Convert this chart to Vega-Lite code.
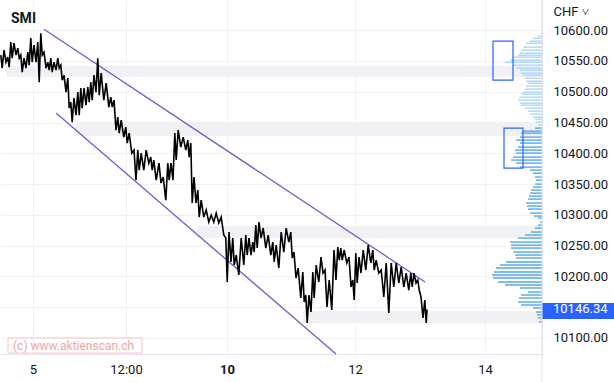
{
  "$schema": "https://vega.github.io/schema/vega-lite/v6.json",
  "width": 542,
  "height": 354,
  "autosize": "none",
  "padding": {"left": 0, "top": 0, "right": 72, "bottom": 28},
  "background": "white",
  "config": {"view": {"stroke": null}, "font": "Roboto"},
  "title": {"text": "SMI", "anchor": "start", "frame": "group", "offset": 0, "dy": 37, "dx": 11, "baseline": "alphabetic", "fontSize": 14, "fontWeight": "bold", "color": "#131722", "font": "Roboto"},
  "datasets": {
    "bands": [
      {"t1": 3, "t2": 271, "lo": 10524, "hi": 10542},
      {"t1": 37.5, "t2": 271, "lo": 10428, "hi": 10451},
      {"t1": 98.5, "t2": 271, "lo": 10262, "hi": 10282},
      {"t1": 151.5, "t2": 271, "lo": 10124, "hi": 10144}
    ],
    "trend": [
      {"line": "upper", "t": 22, "p": 10601.6}, {"line": "upper", "t": 212.5, "p": 10190.9},
      {"line": "lower", "t": 28, "p": 10465.3}, {"line": "lower", "t": 168, "p": 10074}
    ],
    "boxes": [
      {"t1": 246.5, "t2": 256.5, "hi": 10582.1, "lo": 10518.8},
      {"t1": 252, "t2": 261.5, "hi": 10440.9, "lo": 10376.0}
    ],
    "mark": [
      {"t1": 4, "t2": 71, "hi": 10100, "lo": 10075.6, "tl": 6.5, "p": 10087.8, "label": "(c) www.aktienscan.ch"}
    ],
    "last": [
      {"t1": 271, "t2": 307, "hi": 10156.8, "lo": 10130.8, "tl": 276.5, "p": 10146.34, "label": "10146.34"}
    ],
    "profile": [
      {"p": 10595.1, "vol": 1, "zone": "upper"}, {"p": 10590.3, "vol": 4, "zone": "upper"}, {"p": 10587.0, "vol": 9, "zone": "upper"}, {"p": 10582.1, "vol": 12, "zone": "upper"}, {"p": 10578.9, "vol": 16, "zone": "upper"}, {"p": 10572.4, "vol": 19, "zone": "upper"}, {"p": 10567.5, "vol": 21, "zone": "upper"}, {"p": 10562.7, "vol": 22, "zone": "upper"}, {"p": 10559.4, "vol": 24, "zone": "upper"}, {"p": 10556.2, "vol": 29, "zone": "upper"}, {"p": 10551.3, "vol": 32, "zone": "upper"}, {"p": 10548.0, "vol": 37, "zone": "upper"}, {"p": 10543.2, "vol": 29, "zone": "upper"}, {"p": 10538.3, "vol": 26, "zone": "upper"}, {"p": 10535.1, "vol": 22, "zone": "upper"}, {"p": 10530.2, "vol": 21, "zone": "upper"}, {"p": 10526.9, "vol": 19, "zone": "upper"}, {"p": 10522.1, "vol": 17, "zone": "upper"}, {"p": 10517.2, "vol": 16, "zone": "upper"}, {"p": 10514.0, "vol": 14, "zone": "upper"}, {"p": 10509.1, "vol": 16, "zone": "upper"}, {"p": 10504.2, "vol": 17, "zone": "upper"}, {"p": 10499.3, "vol": 19, "zone": "upper"}, {"p": 10496.1, "vol": 21, "zone": "upper"}, {"p": 10491.2, "vol": 23, "zone": "upper"}, {"p": 10486.4, "vol": 24, "zone": "upper"}, {"p": 10481.5, "vol": 22, "zone": "upper"}, {"p": 10478.2, "vol": 21, "zone": "upper"}, {"p": 10473.4, "vol": 17, "zone": "upper"}, {"p": 10468.5, "vol": 14, "zone": "upper"}, {"p": 10463.6, "vol": 12, "zone": "upper"}, {"p": 10458.8, "vol": 9, "zone": "upper"}, {"p": 10455.5, "vol": 7, "zone": "upper"}, {"p": 10450.6, "vol": 6, "zone": "upper"}, {"p": 10445.8, "vol": 4, "zone": "upper"},
      {"p": 10440.9, "vol": 7, "zone": "lower"}, {"p": 10436.0, "vol": 19, "zone": "lower"}, {"p": 10432.8, "vol": 21, "zone": "lower"}, {"p": 10426.3, "vol": 22, "zone": "lower"}, {"p": 10421.4, "vol": 26, "zone": "lower"}, {"p": 10416.6, "vol": 22, "zone": "lower"}, {"p": 10410.1, "vol": 24, "zone": "lower"}, {"p": 10405.2, "vol": 27, "zone": "lower"}, {"p": 10400.3, "vol": 26, "zone": "lower"}, {"p": 10393.8, "vol": 29, "zone": "lower"}, {"p": 10389.0, "vol": 31, "zone": "lower"}, {"p": 10384.1, "vol": 26, "zone": "lower"}, {"p": 10377.6, "vol": 22, "zone": "lower"}, {"p": 10372.7, "vol": 12, "zone": "lower"}, {"p": 10367.8, "vol": 9, "zone": "lower"}, {"p": 10361.4, "vol": 7, "zone": "lower"}, {"p": 10356.5, "vol": 6, "zone": "lower"}, {"p": 10350.0, "vol": 7, "zone": "lower"}, {"p": 10345.1, "vol": 9, "zone": "lower"}, {"p": 10340.3, "vol": 11, "zone": "lower"}, {"p": 10335.4, "vol": 12, "zone": "lower"}, {"p": 10330.5, "vol": 13, "zone": "lower"}, {"p": 10325.6, "vol": 14, "zone": "lower"}, {"p": 10319.2, "vol": 16, "zone": "lower"}, {"p": 10314.3, "vol": 15, "zone": "lower"}, {"p": 10309.4, "vol": 14, "zone": "lower"}, {"p": 10302.9, "vol": 12, "zone": "lower"}, {"p": 10298.0, "vol": 8, "zone": "lower"}, {"p": 10294.8, "vol": 4, "zone": "lower"}, {"p": 10288.3, "vol": 2, "zone": "lower"}, {"p": 10283.4, "vol": 4, "zone": "lower"}, {"p": 10278.6, "vol": 7, "zone": "lower"}, {"p": 10272.1, "vol": 11, "zone": "lower"}, {"p": 10267.2, "vol": 17, "zone": "lower"}, {"p": 10262.3, "vol": 24, "zone": "lower"}, {"p": 10255.8, "vol": 32, "zone": "lower"}, {"p": 10250.9, "vol": 31, "zone": "lower"}, {"p": 10246.1, "vol": 31, "zone": "lower"}, {"p": 10239.6, "vol": 29, "zone": "lower"}, {"p": 10234.7, "vol": 27, "zone": "lower"}, {"p": 10229.9, "vol": 26, "zone": "lower"}, {"p": 10223.4, "vol": 36, "zone": "lower"}, {"p": 10218.5, "vol": 42, "zone": "lower"}, {"p": 10213.6, "vol": 46, "zone": "lower"}, {"p": 10207.1, "vol": 48, "zone": "lower"}, {"p": 10202.3, "vol": 50, "zone": "lower"}, {"p": 10197.4, "vol": 49, "zone": "lower"}, {"p": 10190.9, "vol": 44, "zone": "lower"}, {"p": 10186.0, "vol": 37, "zone": "lower"}, {"p": 10181.2, "vol": 22, "zone": "lower"}, {"p": 10174.7, "vol": 14, "zone": "lower"}, {"p": 10169.8, "vol": 21, "zone": "lower"}, {"p": 10164.9, "vol": 23, "zone": "lower"}, {"p": 10158.4, "vol": 24, "zone": "lower"}, {"p": 10153.6, "vol": 21, "zone": "lower"}, {"p": 10148.7, "vol": 9, "zone": "lower"}, {"p": 10142.2, "vol": 6, "zone": "lower"}, {"p": 10137.3, "vol": 5, "zone": "lower"}, {"p": 10132.5, "vol": 4, "zone": "lower"}, {"p": 10126.0, "vol": 3, "zone": "lower"}
    ],
    "price": [
      {"t": 0.4, "p": 10559.4}, {"t": 1.1, "p": 10538.3}, {"t": 2.0, "p": 10567.5}, {"t": 3.0, "p": 10548.0}, {"t": 3.9, "p": 10556.2}, {"t": 4.6, "p": 10539.9}, {"t": 5.4, "p": 10580.5}, {"t": 6.1, "p": 10554.5}, {"t": 7.0, "p": 10578.9}, {"t": 8.0, "p": 10559.4}, {"t": 8.9, "p": 10570.8}, {"t": 9.6, "p": 10554.5}, {"t": 10.4, "p": 10559.4}, {"t": 11.1, "p": 10531.8}, {"t": 12.0, "p": 10554.5}, {"t": 13.0, "p": 10538.3}, {"t": 13.9, "p": 10564.3}, {"t": 14.6, "p": 10543.2}, {"t": 15.4, "p": 10587.0}, {"t": 16.1, "p": 10548.0}, {"t": 17.0, "p": 10575.6}, {"t": 18.0, "p": 10548.0}, {"t": 18.9, "p": 10580.5}, {"t": 19.6, "p": 10515.6}, {"t": 20.4, "p": 10595.1}, {"t": 21.1, "p": 10559.4}, {"t": 22.0, "p": 10564.3}, {"t": 23.0, "p": 10538.3}, {"t": 23.9, "p": 10548.0}, {"t": 24.6, "p": 10535.1}, {"t": 25.4, "p": 10554.5}, {"t": 26.1, "p": 10531.8}, {"t": 27.0, "p": 10548.0}, {"t": 28.0, "p": 10535.1}, {"t": 28.9, "p": 10554.5}, {"t": 29.6, "p": 10538.3}, {"t": 30.4, "p": 10543.2}, {"t": 31.1, "p": 10518.8}, {"t": 32.0, "p": 10526.9}, {"t": 33.0, "p": 10499.3}, {"t": 33.9, "p": 10522.1}, {"t": 34.6, "p": 10473.4}, {"t": 35.4, "p": 10483.1}, {"t": 36.1, "p": 10450.6}, {"t": 37.0, "p": 10489.6}, {"t": 38.0, "p": 10462.0}, {"t": 38.9, "p": 10499.3}, {"t": 39.6, "p": 10462.0}, {"t": 40.4, "p": 10505.8}, {"t": 41.1, "p": 10473.4}, {"t": 42.0, "p": 10505.8}, {"t": 43.0, "p": 10478.2}, {"t": 43.9, "p": 10507.5}, {"t": 44.6, "p": 10483.1}, {"t": 45.4, "p": 10515.6}, {"t": 46.1, "p": 10486.4}, {"t": 47.0, "p": 10526.9}, {"t": 48.0, "p": 10499.3}, {"t": 48.9, "p": 10554.5}, {"t": 49.6, "p": 10494.5}, {"t": 50.6, "p": 10530.2}, {"t": 51.9, "p": 10486.4}, {"t": 53.1, "p": 10514.0}, {"t": 54.4, "p": 10475.0}, {"t": 55.4, "p": 10491.2}, {"t": 56.1, "p": 10475.0}, {"t": 57.0, "p": 10486.4}, {"t": 58.0, "p": 10437.7}, {"t": 58.9, "p": 10458.8}, {"t": 59.6, "p": 10432.8}, {"t": 60.6, "p": 10453.9}, {"t": 61.9, "p": 10426.3}, {"t": 62.9, "p": 10442.5}, {"t": 63.6, "p": 10416.6}, {"t": 64.6, "p": 10432.8}, {"t": 65.9, "p": 10400.3}, {"t": 67.0, "p": 10405.2}, {"t": 68.0, "p": 10356.5}, {"t": 68.9, "p": 10405.2}, {"t": 69.6, "p": 10372.7}, {"t": 70.6, "p": 10400.3}, {"t": 71.9, "p": 10372.7}, {"t": 73.1, "p": 10405.2}, {"t": 74.4, "p": 10384.1}, {"t": 75.4, "p": 10393.8}, {"t": 76.1, "p": 10372.7}, {"t": 76.9, "p": 10389.0}, {"t": 78.1, "p": 10356.5}, {"t": 79.5, "p": 10384.1}, {"t": 80.5, "p": 10351.6}, {"t": 81.6, "p": 10361.4}, {"t": 82.9, "p": 10324.0}, {"t": 83.9, "p": 10384.1}, {"t": 84.6, "p": 10356.5}, {"t": 85.5, "p": 10384.1}, {"t": 86.5, "p": 10356.5}, {"t": 87.4, "p": 10432.8}, {"t": 88.1, "p": 10389.0}, {"t": 89.1, "p": 10437.7}, {"t": 90.4, "p": 10410.1}, {"t": 91.6, "p": 10426.3}, {"t": 92.9, "p": 10405.2}, {"t": 93.9, "p": 10421.4}, {"t": 94.6, "p": 10393.8}, {"t": 95.4, "p": 10416.6}, {"t": 96.1, "p": 10319.2}, {"t": 97.0, "p": 10361.4}, {"t": 98.0, "p": 10319.2}, {"t": 98.9, "p": 10340.3}, {"t": 99.6, "p": 10296.4}, {"t": 100.6, "p": 10324.0}, {"t": 101.9, "p": 10296.4}, {"t": 103.1, "p": 10307.8}, {"t": 104.4, "p": 10288.3}, {"t": 105.6, "p": 10299.7}, {"t": 106.9, "p": 10288.3}, {"t": 108.1, "p": 10302.9}, {"t": 109.4, "p": 10286.7}, {"t": 110.6, "p": 10296.4}, {"t": 111.9, "p": 10267.2}, {"t": 112.9, "p": 10262.3}, {"t": 113.6, "p": 10190.9}, {"t": 114.5, "p": 10272.1}, {"t": 115.5, "p": 10223.4}, {"t": 116.4, "p": 10262.3}, {"t": 117.1, "p": 10218.5}, {"t": 118.1, "p": 10234.7}, {"t": 119.4, "p": 10202.3}, {"t": 120.6, "p": 10262.3}, {"t": 121.9, "p": 10218.5}, {"t": 122.9, "p": 10267.2}, {"t": 123.6, "p": 10234.7}, {"t": 124.5, "p": 10262.3}, {"t": 125.5, "p": 10234.7}, {"t": 126.4, "p": 10255.8}, {"t": 127.1, "p": 10239.6}, {"t": 127.9, "p": 10283.4}, {"t": 128.6, "p": 10246.1}, {"t": 129.5, "p": 10288.3}, {"t": 130.5, "p": 10262.3}, {"t": 131.6, "p": 10278.6}, {"t": 132.9, "p": 10246.1}, {"t": 134.1, "p": 10267.2}, {"t": 135.4, "p": 10234.7}, {"t": 136.4, "p": 10255.8}, {"t": 137.1, "p": 10223.4}, {"t": 138.1, "p": 10251.0}, {"t": 139.4, "p": 10213.6}, {"t": 140.6, "p": 10272.1}, {"t": 141.9, "p": 10239.6}, {"t": 143.1, "p": 10278.6}, {"t": 144.4, "p": 10255.8}, {"t": 145.4, "p": 10272.1}, {"t": 146.1, "p": 10229.9}, {"t": 147.0, "p": 10239.6}, {"t": 148.0, "p": 10197.4}, {"t": 149.1, "p": 10213.6}, {"t": 150.4, "p": 10164.9}, {"t": 151.4, "p": 10207.1}, {"t": 152.1, "p": 10158.4}, {"t": 152.9, "p": 10169.8}, {"t": 153.6, "p": 10124.3}, {"t": 154.5, "p": 10169.8}, {"t": 155.5, "p": 10142.2}, {"t": 156.4, "p": 10207.1}, {"t": 157.1, "p": 10164.9}, {"t": 158.1, "p": 10218.5}, {"t": 159.4, "p": 10190.9}, {"t": 160.5, "p": 10231.5}, {"t": 161.5, "p": 10205.5}, {"t": 162.5, "p": 10210.4}, {"t": 163.5, "p": 10150.3}, {"t": 164.6, "p": 10194.2}, {"t": 165.9, "p": 10145.5}, {"t": 167.0, "p": 10242.9}, {"t": 168.0, "p": 10194.2}, {"t": 168.9, "p": 10247.7}, {"t": 169.6, "p": 10226.6}, {"t": 170.4, "p": 10246.1}, {"t": 171.1, "p": 10226.6}, {"t": 172.1, "p": 10242.9}, {"t": 173.4, "p": 10221.8}, {"t": 174.5, "p": 10231.5}, {"t": 175.5, "p": 10182.8}, {"t": 176.4, "p": 10194.2}, {"t": 177.1, "p": 10161.7}, {"t": 177.9, "p": 10238.0}, {"t": 178.6, "p": 10189.3}, {"t": 179.5, "p": 10231.5}, {"t": 180.5, "p": 10205.5}, {"t": 181.6, "p": 10242.9}, {"t": 182.9, "p": 10210.4}, {"t": 184.1, "p": 10251.0}, {"t": 185.4, "p": 10221.8}, {"t": 186.4, "p": 10242.9}, {"t": 187.1, "p": 10210.4}, {"t": 188.1, "p": 10226.6}, {"t": 189.4, "p": 10205.5}, {"t": 190.6, "p": 10210.4}, {"t": 191.9, "p": 10166.6}, {"t": 193.1, "p": 10221.8}, {"t": 194.4, "p": 10140.6}, {"t": 195.6, "p": 10221.8}, {"t": 196.9, "p": 10182.8}, {"t": 198.1, "p": 10221.8}, {"t": 199.4, "p": 10189.3}, {"t": 200.6, "p": 10215.3}, {"t": 201.9, "p": 10182.8}, {"t": 203.1, "p": 10205.5}, {"t": 204.4, "p": 10177.9}, {"t": 205.4, "p": 10205.5}, {"t": 206.1, "p": 10182.8}, {"t": 207.0, "p": 10205.5}, {"t": 208.0, "p": 10189.3}, {"t": 208.9, "p": 10194.2}, {"t": 209.6, "p": 10177.9}, {"t": 210.5, "p": 10166.6}, {"t": 211.5, "p": 10132.5}, {"t": 212.4, "p": 10161.7}, {"t": 213.1, "p": 10124.3}, {"t": 213.5, "p": 10146.3}
    ]
  },
  "layer": [
    {
      "data": {"name": "bands"},
      "mark": {"type": "rect", "fill": "#f0f1f4"},
      "encoding": {
        "x": {"field": "t1", "type": "quantitative", "scale": {"domain": [0, 271], "nice": false, "zero": false},
          "axis": {"values": [16.5, 63, 113.5, 177.5, 242.5], "labelExpr": "datum.value == 16.5 ? '5' : datum.value == 63 ? '12:00' : datum.value == 113.5 ? '10' : datum.value == 177.5 ? '12' : '14'", "labelFontWeight": {"condition": {"test": "datum.value == 113.5", "value": "bold"}, "value": "normal"}, "title": null, "grid": true, "gridColor": "#eff1f5", "ticks": false, "domainColor": "#e0e3eb", "labelFont": "Roboto", "labelFontSize": 13, "labelColor": "#131722", "labelPadding": 9, "labelFlush": false, "labelOverlap": false}},
        "x2": {"field": "t2"},
        "y": {"field": "lo", "type": "quantitative", "scale": {"domain": [10074, 10649], "nice": false, "zero": false},
          "axis": {"orient": "right", "values": [10100, 10150, 10200, 10250, 10300, 10350, 10400, 10450, 10500, 10550, 10600], "labelExpr": "datum.value == 10150 ? '' : format(datum.value, '.2f')", "grid": true, "gridColor": "#eff1f5", "ticks": false, "domainColor": "#e0e3eb", "labelFont": "Roboto", "labelFontSize": 13, "labelColor": "#131722", "labelPadding": 11, "labelAlign": "left", "labelBaseline": "middle", "labelOverlap": false, "labelFlush": false, "title": "CHF ˅", "titleAngle": 0, "titleX": 11, "titleY": 11, "titleAlign": "left", "titleBaseline": "middle", "titleFont": "Roboto", "titleFontSize": 13, "titleFontWeight": "normal", "titleColor": "#131722"}},
        "y2": {"field": "hi"}
      }
    },
    {
      "data": {"name": "profile"},
      "mark": {"type": "rule", "strokeWidth": 1.4},
      "encoding": {
        "x": {"field": "vol", "type": "quantitative", "scale": {"domain": [0, 542], "reverse": true, "nice": false, "zero": false}, "axis": null},
        "x2": {"datum": 0},
        "y": {"field": "p", "type": "quantitative", "scale": {"domain": [10074, 10649], "nice": false, "zero": false},
          "axis": {"orient": "right", "values": [10100, 10150, 10200, 10250, 10300, 10350, 10400, 10450, 10500, 10550, 10600], "labelExpr": "datum.value == 10150 ? '' : format(datum.value, '.2f')", "grid": true, "gridColor": "#eff1f5", "ticks": false, "domainColor": "#e0e3eb", "labelFont": "Roboto", "labelFontSize": 13, "labelColor": "#131722", "labelPadding": 11, "labelAlign": "left", "labelBaseline": "middle", "labelOverlap": false, "labelFlush": false, "title": "CHF ˅", "titleAngle": 0, "titleX": 11, "titleY": 11, "titleAlign": "left", "titleBaseline": "middle", "titleFont": "Roboto", "titleFontSize": 13, "titleFontWeight": "normal", "titleColor": "#131722"}},
        "color": {"field": "zone", "type": "nominal", "scale": {"domain": ["upper", "lower"], "range": ["#aed6f5", "#54a7ea"]}, "legend": null}
      }
    },
    {
      "data": {"name": "trend"},
      "mark": {"type": "line", "color": "#6f5bd3", "strokeWidth": 1.3},
      "encoding": {
        "x": {"field": "t", "type": "quantitative", "scale": {"domain": [0, 271], "nice": false, "zero": false}, "axis": null},
        "y": {"field": "p", "type": "quantitative", "scale": {"domain": [10074, 10649], "nice": false, "zero": false},
          "axis": {"orient": "right", "values": [10100, 10150, 10200, 10250, 10300, 10350, 10400, 10450, 10500, 10550, 10600], "labelExpr": "datum.value == 10150 ? '' : format(datum.value, '.2f')", "grid": true, "gridColor": "#eff1f5", "ticks": false, "domainColor": "#e0e3eb", "labelFont": "Roboto", "labelFontSize": 13, "labelColor": "#131722", "labelPadding": 11, "labelAlign": "left", "labelBaseline": "middle", "labelOverlap": false, "labelFlush": false, "title": "CHF ˅", "titleAngle": 0, "titleX": 11, "titleY": 11, "titleAlign": "left", "titleBaseline": "middle", "titleFont": "Roboto", "titleFontSize": 13, "titleFontWeight": "normal", "titleColor": "#131722"}},
        "detail": {"field": "line", "type": "nominal"}
      }
    },
    {
      "data": {"name": "price"},
      "mark": {"type": "line", "color": "#000000", "strokeWidth": 1.6, "strokeJoin": "miter"},
      "encoding": {
        "x": {"field": "t", "type": "quantitative", "scale": {"domain": [0, 271], "nice": false, "zero": false}, "axis": null},
        "y": {"field": "p", "type": "quantitative", "scale": {"domain": [10074, 10649], "nice": false, "zero": false},
          "axis": {"orient": "right", "values": [10100, 10150, 10200, 10250, 10300, 10350, 10400, 10450, 10500, 10550, 10600], "labelExpr": "datum.value == 10150 ? '' : format(datum.value, '.2f')", "grid": true, "gridColor": "#eff1f5", "ticks": false, "domainColor": "#e0e3eb", "labelFont": "Roboto", "labelFontSize": 13, "labelColor": "#131722", "labelPadding": 11, "labelAlign": "left", "labelBaseline": "middle", "labelOverlap": false, "labelFlush": false, "title": "CHF ˅", "titleAngle": 0, "titleX": 11, "titleY": 11, "titleAlign": "left", "titleBaseline": "middle", "titleFont": "Roboto", "titleFontSize": 13, "titleFontWeight": "normal", "titleColor": "#131722"}}
      }
    },
    {
      "data": {"name": "boxes"},
      "mark": {"type": "rect", "filled": false, "stroke": "#2962ff", "strokeWidth": 1.2},
      "encoding": {
        "x": {"field": "t1", "type": "quantitative", "scale": {"domain": [0, 271], "nice": false, "zero": false}, "axis": null},
        "x2": {"field": "t2"},
        "y": {"field": "lo", "type": "quantitative", "scale": {"domain": [10074, 10649], "nice": false, "zero": false},
          "axis": {"orient": "right", "values": [10100, 10150, 10200, 10250, 10300, 10350, 10400, 10450, 10500, 10550, 10600], "labelExpr": "datum.value == 10150 ? '' : format(datum.value, '.2f')", "grid": true, "gridColor": "#eff1f5", "ticks": false, "domainColor": "#e0e3eb", "labelFont": "Roboto", "labelFontSize": 13, "labelColor": "#131722", "labelPadding": 11, "labelAlign": "left", "labelBaseline": "middle", "labelOverlap": false, "labelFlush": false, "title": "CHF ˅", "titleAngle": 0, "titleX": 11, "titleY": 11, "titleAlign": "left", "titleBaseline": "middle", "titleFont": "Roboto", "titleFontSize": 13, "titleFontWeight": "normal", "titleColor": "#131722"}},
        "y2": {"field": "hi"}
      }
    },
    {
      "data": {"name": "mark"},
      "mark": {"type": "rect", "filled": false, "stroke": "#f8c4c4", "strokeWidth": 1},
      "encoding": {
        "x": {"field": "t1", "type": "quantitative", "scale": {"domain": [0, 271], "nice": false, "zero": false}, "axis": null},
        "x2": {"field": "t2"},
        "y": {"field": "lo", "type": "quantitative", "scale": {"domain": [10074, 10649], "nice": false, "zero": false},
          "axis": {"orient": "right", "values": [10100, 10150, 10200, 10250, 10300, 10350, 10400, 10450, 10500, 10550, 10600], "labelExpr": "datum.value == 10150 ? '' : format(datum.value, '.2f')", "grid": true, "gridColor": "#eff1f5", "ticks": false, "domainColor": "#e0e3eb", "labelFont": "Roboto", "labelFontSize": 13, "labelColor": "#131722", "labelPadding": 11, "labelAlign": "left", "labelBaseline": "middle", "labelOverlap": false, "labelFlush": false, "title": "CHF ˅", "titleAngle": 0, "titleX": 11, "titleY": 11, "titleAlign": "left", "titleBaseline": "middle", "titleFont": "Roboto", "titleFontSize": 13, "titleFontWeight": "normal", "titleColor": "#131722"}},
        "y2": {"field": "hi"}
      }
    },
    {
      "data": {"name": "mark"},
      "mark": {"type": "text", "align": "left", "baseline": "middle", "color": "#f4a4a4", "fontSize": 12, "font": "Roboto"},
      "encoding": {
        "x": {"field": "tl", "type": "quantitative", "scale": {"domain": [0, 271], "nice": false, "zero": false}, "axis": null},
        "y": {"field": "p", "type": "quantitative", "scale": {"domain": [10074, 10649], "nice": false, "zero": false},
          "axis": {"orient": "right", "values": [10100, 10150, 10200, 10250, 10300, 10350, 10400, 10450, 10500, 10550, 10600], "labelExpr": "datum.value == 10150 ? '' : format(datum.value, '.2f')", "grid": true, "gridColor": "#eff1f5", "ticks": false, "domainColor": "#e0e3eb", "labelFont": "Roboto", "labelFontSize": 13, "labelColor": "#131722", "labelPadding": 11, "labelAlign": "left", "labelBaseline": "middle", "labelOverlap": false, "labelFlush": false, "title": "CHF ˅", "titleAngle": 0, "titleX": 11, "titleY": 11, "titleAlign": "left", "titleBaseline": "middle", "titleFont": "Roboto", "titleFontSize": 13, "titleFontWeight": "normal", "titleColor": "#131722"}},
        "text": {"field": "label"}
      }
    },
    {
      "data": {"name": "last"},
      "mark": {"type": "rect", "fill": "#2962ff"},
      "encoding": {
        "x": {"field": "t1", "type": "quantitative", "scale": {"domain": [0, 271], "nice": false, "zero": false}, "axis": null},
        "x2": {"field": "t2"},
        "y": {"field": "lo", "type": "quantitative", "scale": {"domain": [10074, 10649], "nice": false, "zero": false},
          "axis": {"orient": "right", "values": [10100, 10150, 10200, 10250, 10300, 10350, 10400, 10450, 10500, 10550, 10600], "labelExpr": "datum.value == 10150 ? '' : format(datum.value, '.2f')", "grid": true, "gridColor": "#eff1f5", "ticks": false, "domainColor": "#e0e3eb", "labelFont": "Roboto", "labelFontSize": 13, "labelColor": "#131722", "labelPadding": 11, "labelAlign": "left", "labelBaseline": "middle", "labelOverlap": false, "labelFlush": false, "title": "CHF ˅", "titleAngle": 0, "titleX": 11, "titleY": 11, "titleAlign": "left", "titleBaseline": "middle", "titleFont": "Roboto", "titleFontSize": 13, "titleFontWeight": "normal", "titleColor": "#131722"}},
        "y2": {"field": "hi"}
      }
    },
    {
      "data": {"name": "last"},
      "mark": {"type": "text", "align": "left", "baseline": "middle", "color": "#ffffff", "fontSize": 13, "font": "Roboto"},
      "encoding": {
        "x": {"field": "tl", "type": "quantitative", "scale": {"domain": [0, 271], "nice": false, "zero": false}, "axis": null},
        "y": {"field": "p", "type": "quantitative", "scale": {"domain": [10074, 10649], "nice": false, "zero": false},
          "axis": {"orient": "right", "values": [10100, 10150, 10200, 10250, 10300, 10350, 10400, 10450, 10500, 10550, 10600], "labelExpr": "datum.value == 10150 ? '' : format(datum.value, '.2f')", "grid": true, "gridColor": "#eff1f5", "ticks": false, "domainColor": "#e0e3eb", "labelFont": "Roboto", "labelFontSize": 13, "labelColor": "#131722", "labelPadding": 11, "labelAlign": "left", "labelBaseline": "middle", "labelOverlap": false, "labelFlush": false, "title": "CHF ˅", "titleAngle": 0, "titleX": 11, "titleY": 11, "titleAlign": "left", "titleBaseline": "middle", "titleFont": "Roboto", "titleFontSize": 13, "titleFontWeight": "normal", "titleColor": "#131722"}},
        "text": {"field": "label"}
      }
    },
    {
      "data": {"values": [{}]},
      "mark": {"type": "rule", "color": "#e0e3eb", "strokeWidth": 1},
      "encoding": {
        "x": {"datum": 271, "type": "quantitative", "scale": {"domain": [0, 271], "nice": false, "zero": false}, "axis": null},
        "y": {"datum": 10649, "type": "quantitative", "scale": {"domain": [10074, 10649], "nice": false, "zero": false},
          "axis": {"orient": "right", "values": [10100, 10150, 10200, 10250, 10300, 10350, 10400, 10450, 10500, 10550, 10600], "labelExpr": "datum.value == 10150 ? '' : format(datum.value, '.2f')", "grid": true, "gridColor": "#eff1f5", "ticks": false, "domainColor": "#e0e3eb", "labelFont": "Roboto", "labelFontSize": 13, "labelColor": "#131722", "labelPadding": 11, "labelAlign": "left", "labelBaseline": "middle", "labelOverlap": false, "labelFlush": false, "title": "CHF ˅", "titleAngle": 0, "titleX": 11, "titleY": 11, "titleAlign": "left", "titleBaseline": "middle", "titleFont": "Roboto", "titleFontSize": 13, "titleFontWeight": "normal", "titleColor": "#131722"}},
        "y2": {"datum": 10028}
      }
    }
  ],
  "resolve": {"scale": {"x": "independent"}}
}
